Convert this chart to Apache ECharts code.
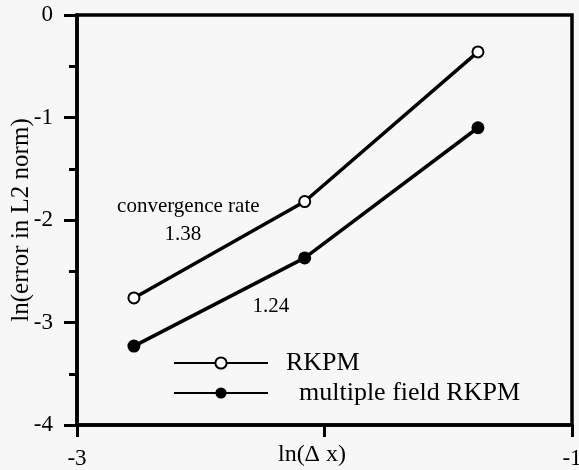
<!DOCTYPE html>
<html>
<head>
<meta charset="utf-8">
<script src="https://cdn.jsdelivr.net/npm/echarts@6/dist/echarts.min.js"></script>
<style>
html,body{margin:0;padding:0;background:#f7f7f7;}
#c{width:579px;height:470px;}
</style>
</head>
<body>
<div id="c"></div>
<script>
// ln(dx) values
var lnDx = [-2.77, -2.08, -1.38];
var rkpm = [-2.76, -1.82, -0.36];
var multiRkpm = [-3.23, -2.37, -1.10];
var seriesNames = ['RKPM', 'multiple field RKPM'];
var xTickLabels = {'-3': '-3', '-2': '', '-1': '-1'};
var annotations = [
  {text: 'convergence rate', x: -2.838, y: -1.87, align: 'left'},
  {text: '1.38', x: -2.572, y: -2.14, align: 'center'},
  {text: '1.24', x: -2.217, y: -2.845, align: 'center'}
];

var FONT = '"Liberation Serif", "Times New Roman", serif';
var chart = echarts.init(document.getElementById('c'), null, {renderer: 'canvas'});

function pairs(xs, ys) { return xs.map(function (x, i) { return [x, ys[i]]; }); }

var option = {
  backgroundColor: '#f7f7f7',
  animation: false,
  grid: {left: 77, right: 7, top: 15, bottom: 45, show: true, borderColor: '#000', borderWidth: 3.5,
         backgroundColor: 'transparent', containLabel: false, outerBoundsMode: 'none'},
  legend: {
    orient: 'vertical',
    left: 168,
    top: 345,
    itemWidth: 94,
    itemHeight: 14,
    itemGap: 4,
    data: seriesNames,
    formatter: function (n) { return n === 'RKPM' ? '  ' + n : '    ' + n; },
    textStyle: {fontFamily: FONT, fontSize: 26, color: '#000'}
  },
  xAxis: {
    type: 'value', min: -3, max: -1, interval: 1,
    name: 'ln(\u0394 x)', nameLocation: 'middle', nameGap: 18, nameMoveOverlap: false,
    nameTextStyle: {fontFamily: FONT, fontSize: 24, color: '#000', padding: [0, 25, 0, 0]},
    axisLine: {onZero: false, lineStyle: {color: '#000', width: 3.5}},
    axisTick: {show: true, length: 12, lineStyle: {color: '#000', width: 3}},
    axisLabel: {fontFamily: FONT, fontSize: 23, color: '#000', margin: 22,
                formatter: function (v) { return xTickLabels[String(v)]; }},
    splitLine: {show: false}
  },
  yAxis: {
    type: 'value', min: -4, max: 0, interval: 1,
    name: 'ln(error in L2 norm)', nameLocation: 'middle', nameGap: 43, nameRotate: 90, nameMoveOverlap: false,
    nameTextStyle: {fontFamily: FONT, fontSize: 25, color: '#000'},
    axisLine: {onZero: false, lineStyle: {color: '#000', width: 3.5}},
    axisTick: {show: true, length: 13, lineStyle: {color: '#000', width: 3}},
    minorTick: {show: true, splitNumber: 2, length: 8, lineStyle: {color: '#000', width: 3}},
    axisLabel: {fontFamily: FONT, fontSize: 23, color: '#000', margin: 24},
    splitLine: {show: false}
  },
  series: [
    {
      name: seriesNames[0], type: 'line', data: pairs(lnDx, rkpm),
      symbol: 'emptyCircle', symbolSize: 11,
      lineStyle: {color: '#000', width: 3.5},
      itemStyle: {color: '#000', borderColor: '#000', borderWidth: 3}
    },
    {
      name: seriesNames[1], type: 'line', data: pairs(lnDx, multiRkpm),
      symbol: 'circle', symbolSize: 13,
      lineStyle: {color: '#000', width: 3.5},
      itemStyle: {color: '#000', borderColor: '#000', borderWidth: 0}
    }
  ]
};
chart.setOption(option);

var g = annotations.map(function (a) {
  var p = chart.convertToPixel({gridIndex: 0}, [a.x, a.y]);
  return {
    type: 'text', x: p[0], y: p[1],
    style: {text: a.text, fontFamily: FONT, fontSize: 21, fill: '#000', align: a.align, verticalAlign: 'middle'}
  };
});
chart.setOption({graphic: g});
</script>
</body>
</html>
